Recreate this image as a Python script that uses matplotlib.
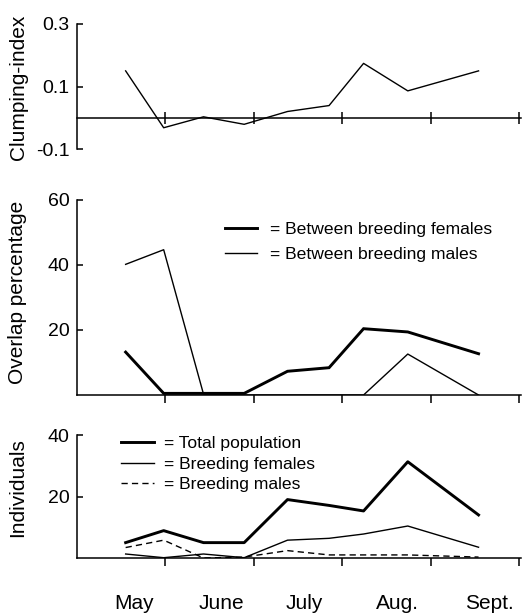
import matplotlib
matplotlib.use("Agg")
import matplotlib.pyplot as plt
from matplotlib.lines import Line2D
import matplotlib.transforms as mtransforms

plt.rcParams['font.family'] = ['Liberation Sans', 'DejaVu Sans']

# ---- data ----
# sampling dates expressed in months after 1 May (0 = 1 May, 1 = 1 June, ...)
sample_x = [0.55, 0.98, 1.43, 1.89, 2.38, 2.85, 3.24, 3.74, 4.54]

clumping_index = [0.150, -0.032, 0.003, -0.021, 0.020, 0.039, 0.174, 0.086, 0.150]

overlap_females = [13.2, 0.5, 0.5, 0.5, 7.3, 8.4, 20.4, 19.4, 12.7]
overlap_males = [40.2, 44.7, 0.3, 0.0, 0.0, 0.0, 0.0, 12.6, 0.0]

total_population = [5.0, 8.9, 5.0, 5.0, 19.0, 17.1, 15.3, 31.3, 14.0]
breeding_females = [1.3, 0.1, 1.3, 0.1, 5.8, 6.4, 7.8, 10.4, 3.5]
breeding_males = [3.4, 5.8, 0.0, 0.3, 2.4, 1.0, 1.0, 1.0, 0.3]

month_labels = ['May', 'June', 'July', 'Aug.', 'Sept.']
month_label_x = [0.65, 1.63, 2.57, 3.62, 4.66]
month_ticks = [1, 2, 3, 4, 5]

clump_ticks = [-0.1, 0.1, 0.3]
clump_ticklabels = ['-0.1', '0.1', '0.3']
overlap_ticks = [20, 40, 60]
indiv_ticks = [20, 40]

# ---- layout ----
W, H = 532, 614
fig = plt.figure(figsize=(W / 100, H / 100), dpi=100)

def px_axes(left, right, top, bottom):
    return fig.add_axes([left / W, 1 - bottom / H, (right - left) / W, (bottom - top) / H])

ax1 = px_axes(77, 521, 24, 149)
ax2 = px_axes(77, 521, 200, 395)
ax3 = px_axes(77, 521, 435, 558)

THICK = 2.1
THIN = 1.0
SPW = 1.1
TICKFS = 14
LABELFS = 15
LEGFS = 12.6

for ax in (ax1, ax2, ax3):
    ax.set_xlim(0, 5.02)
    for s in ('top', 'right'):
        ax.spines[s].set_visible(False)
    for s in ('left', 'bottom'):
        ax.spines[s].set_linewidth(SPW)
    ax.set_xticks(month_ticks)
    ax.set_xticklabels([])
    ax.tick_params(axis='y', direction='in', length=4.5, width=SPW, labelsize=TICKFS, pad=5.5)
    ax.patch.set_visible(False)

# top panel
ax1.set_ylim(-0.1, 0.3)
ax1.spines['bottom'].set_position(('data', 0))
ax1.set_yticks(clump_ticks)
ax1.set_yticklabels(clump_ticklabels)
ax1.tick_params(axis='x', direction='inout', length=8, width=SPW)
ax1.plot(sample_x, clumping_index, color='black', lw=THIN)

# middle panel
ax2.set_ylim(0, 60)
ax2.set_yticks(overlap_ticks)
ax2.tick_params(axis='x', direction='out', length=6, width=SPW)
ax2.plot(sample_x, overlap_females, color='black', lw=THICK, solid_joinstyle='miter')
ax2.plot(sample_x, overlap_males, color='black', lw=THIN)
h2 = [Line2D([], [], color='black', lw=THICK), Line2D([], [], color='black', lw=THIN)]
ax2.legend(h2, ['= Between breeding females', '= Between breeding males'],
           loc='upper left', bbox_to_anchor=(0.333, 0.89), frameon=False,
           fontsize=LEGFS, handlelength=1.86, handletextpad=0.7,
           labelspacing=0.58, borderpad=0, borderaxespad=0)

# bottom panel
ax3.set_ylim(0, 40)
ax3.set_yticks(indiv_ticks)
ax3.tick_params(axis='x', direction='out', length=6, width=SPW)
ax3.plot(sample_x, total_population, color='black', lw=THICK)
ax3.plot(sample_x, breeding_females, color='black', lw=THIN)
ax3.plot(sample_x, breeding_males, color='black', lw=THIN, dashes=(4.5, 3))
h3 = [Line2D([], [], color='black', lw=THICK),
      Line2D([], [], color='black', lw=THIN),
      Line2D([], [], color='black', lw=THIN, dashes=(4.5, 3))]
ax3.legend(h3, ['= Total population', '= Breeding females', '= Breeding males'],
           loc='upper left', bbox_to_anchor=(0.099, 0.99), frameon=False,
           fontsize=LEGFS, handlelength=1.86, handletextpad=0.6,
           labelspacing=0.28, borderpad=0, borderaxespad=0)

# month labels
trans = mtransforms.blended_transform_factory(ax3.transData, ax3.transAxes)
for xm, lab in zip(month_label_x, month_labels):
    ax3.text(xm, -0.366, lab, transform=trans, ha='center', va='center', fontsize=LABELFS)

# y labels
fig.text(19 / W, 1 - 87 / H, 'Clumping-index', rotation=90, ha='center', va='center', fontsize=LABELFS)
fig.text(18 / W, 1 - 292 / H, 'Overlap percentage', rotation=90, ha='center', va='center', fontsize=LABELFS)
fig.text(18 / W, 1 - 488 / H, 'Individuals', rotation=90, ha='center', va='center', fontsize=LABELFS)

fig.savefig('out.png', dpi=100)
